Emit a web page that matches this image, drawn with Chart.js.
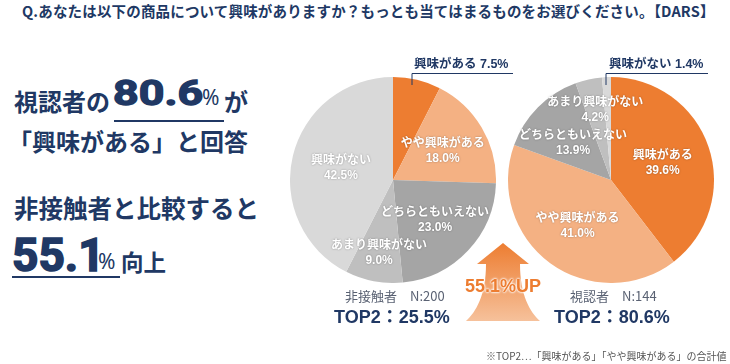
<!DOCTYPE html>
<html><head><meta charset="utf-8">
<script src="https://cdn.jsdelivr.net/npm/chart.js@4/dist/chart.umd.min.js"></script>
<style>
html,body{margin:0;padding:0;background:#fff;}
body{width:730px;height:364px;position:relative;overflow:hidden;font-family:"Noto Sans CJK JP","Noto Sans",sans-serif;}
.t{position:absolute;white-space:nowrap;color:#203864;font-weight:bold;line-height:1;}
.lat{font-family:"Liberation Sans","Noto Sans CJK JP",sans-serif;}
.big{font-family:Roboto,"Liberation Sans",sans-serif;font-weight:bold;transform-origin:0 0;-webkit-text-stroke:1.3px #203864;}
canvas{position:absolute;}
svg{position:absolute;left:0;top:0;}
.ul{position:absolute;height:2px;background:#203864;}
</style></head><body>
<div class="t" id="title" style="left:22px;top:4px;font-size:14.5px;letter-spacing:0.17px;">Q.あなたは以下の商品について興味がありますか？もっとも当てはまるものをお選びください。【DARS】</div>

<div class="t" style="left:14px;top:89px;font-size:24px;">視認者の</div>
<div class="t big" style="left:113px;top:75.5px;font-size:35px;transform:scaleX(1.28);">80.6</div>
<div class="t" style="left:202px;top:87px;font-size:21px;font-weight:normal;font-family:'Noto Sans',sans-serif;">%</div>
<div class="t" style="left:224px;top:89px;font-size:24px;">が</div>
<div class="ul" style="left:114px;top:120px;width:110px;"></div>
<div class="t" style="left:8px;top:129px;font-size:24px;">「興味がある」と回答</div>
<div class="t" style="left:14px;top:196px;font-size:24.5px;">非接触者と比較すると</div>
<div class="t big" style="left:12px;top:232px;font-size:46px;-webkit-text-stroke:1.6px #203864;">55.1</div>
<div class="t" style="left:98px;top:251px;font-size:21px;font-weight:normal;font-family:'Noto Sans',sans-serif;">%</div>
<div class="t" style="left:121px;top:250px;font-size:22.5px;">向上</div>
<div class="ul" style="left:12px;top:276px;width:108px;"></div>

<canvas id="c1" width="206" height="206" style="left:290px;top:77px;"></canvas>
<canvas id="c2" width="206" height="206" style="left:508px;top:77px;"></canvas>

<svg width="730" height="364">
  <defs>
    <linearGradient id="g" x1="0" y1="0" x2="0" y2="1">
      <stop offset="0" stop-color="#ED7D31"/>
      <stop offset="1" stop-color="#F6C19B"/>
    </linearGradient>
  </defs>
  <path d="M503,243 L529,264 L520,264 C520,295 530,312 540,321 L466,321 C476,312 486,295 486,264 L477,264 Z" fill="url(#g)"/>
  <polyline points="412,85 412,73.5 513,73.5" fill="none" stroke="#203864" stroke-width="1"/>
  <polyline points="606,85 606,73.5 708,73.5" fill="none" stroke="#203864" stroke-width="1"/>
</svg>

<div class="t lat" id="up" style="left:465px;top:277px;font-size:18px;color:#ED7D31;text-shadow:0 0 2px #fff,0 0 2px #fff,0 0 3px #fff;">55.1%UP</div>

<div class="t lat" style="left:414px;top:58px;font-size:12.5px;">興味がある 7.5%</div>
<div class="t lat" style="left:609px;top:58px;font-size:12.5px;">興味がない 1.4%</div>

<div class="t" style="left:345px;top:289px;font-size:13px;font-weight:normal;color:#5a6273;">非接触者　N:200</div>
<div class="t lat" style="left:334px;top:308px;font-size:18px;">TOP2：25.5%</div>
<div class="t" style="left:570px;top:289px;font-size:13px;font-weight:normal;color:#5a6273;">視認者　N:144</div>
<div class="t lat" style="left:554px;top:308px;font-size:18px;">TOP2：80.6%</div>

<div class="t" style="left:486px;top:351px;font-size:10px;font-weight:normal;color:#555;">※TOP2…「興味がある」「やや興味がある」の合計値</div>

<script>
const categories = ["興味がある","やや興味がある","どちらともいえない","あまり興味がない","興味がない"];
const nonContactValues = [7.5, 18.0, 23.0, 9.0, 42.5];
const viewerValues = [39.6, 41.0, 13.9, 4.2, 1.4];
const sliceColors = ["#ED7D31","#F4B183","#A5A5A5","#BFBFBF","#D9D9D9"];

const labelPlugin = {
  id: 'inLabels',
  afterDatasetsDraw(chart, args, opts) {
    const ctx = chart.ctx;
    const meta = chart.getDatasetMeta(0);
    const vals = chart.data.datasets[0].data;
    const labels = chart.data.labels;
    meta.data.forEach((arc, i) => {
      const f = opts.radius[i];
      if (f == null) return;
      const p = arc.getProps(['x','y','startAngle','endAngle','outerRadius'], true);
      const mid = (p.startAngle + p.endAngle) / 2;
      const r = p.outerRadius * f;
      const cx = p.x + Math.cos(mid) * r;
      const cy = p.y + Math.sin(mid) * r;
      ctx.save();
      ctx.fillStyle = '#fff';
      ctx.textAlign = 'center';
      ctx.textBaseline = 'middle';
      ctx.shadowColor = 'rgba(0,0,0,0.35)';
      ctx.shadowBlur = 2;
      ctx.font = 'bold 12px "Noto Sans CJK JP", sans-serif';
      ctx.fillText(labels[i], cx, cy - 8);
      ctx.font = 'bold 12px "Liberation Sans", sans-serif';
      ctx.fillText(vals[i].toFixed(1) + '%', cx, cy + 8);
      ctx.restore();
    });
  }
};

function makePie(id, values, radii) {
  return new Chart(document.getElementById(id), {
    type: 'pie',
    data: { labels: categories, datasets: [{ data: values, backgroundColor: sliceColors, borderWidth: 0 }] },
    options: {
      responsive: false, animation: false, devicePixelRatio: 1,
      layout: { padding: 0 },
      plugins: { legend: { display: false }, tooltip: { enabled: false }, inLabels: { radius: radii } }
    },
    plugins: [labelPlugin]
  });
}
makePie('c1', nonContactValues, [null, 0.56, 0.56, 0.72, 0.52]);
makePie('c2', viewerValues, [0.53, 0.55, 0.52, 0.7, null]);
</script>
</body></html>
